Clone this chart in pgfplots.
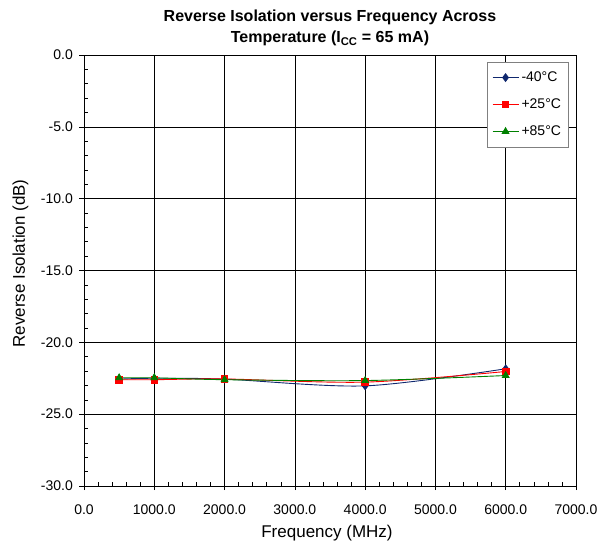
\documentclass[border=0pt]{standalone}
\usepackage{fontspec}
\setmainfont{Liberation Sans}
\usepackage{pgfplots}
\pgfplotsset{compat=1.18}
\definecolor{navyline}{RGB}{16,40,110}
\definecolor{redline}{RGB}{255,0,0}
\definecolor{greenline}{RGB}{0,128,0}
\begin{document}
\begin{tikzpicture}
\begin{axis}[
  scale only axis,
  width=492pt, height=431pt,
  xmin=0, xmax=7000, ymin=-30, ymax=0,
  xtick distance=1000, ytick distance=5,
  minor x tick num=4, minor y tick num=4,
  tick pos=left, tick align=inside,
  major tick length=5pt, minor tick length=4pt,
  major x tick style={yshift=-4pt},
  major y tick style={xshift=-5pt},
  every tick/.style={black, line width=0.6pt},
  xmajorgrids, ymajorgrids,
  major grid style={black, line width=0.6pt},
  axis line style={black, line width=0.8pt},
  /pgf/number format/assume math mode=true,
  /pgf/number format/.cd, fixed, fixed zerofill, precision=1, 1000 sep={},
  /pgfplots/.cd,
  ticklabel style={font=\fontsize{14}{16}\selectfont},
  xticklabel style={anchor=base, yshift=-28pt},
  yticklabel style={anchor=east, inner sep=0pt, xshift=-11pt},
  label style={font=\fontsize{17}{19}\selectfont},
  xlabel={Frequency (MHz)},
  ylabel={Reverse Isolation (dB)},
  xlabel style={at={([xshift=-3pt, yshift=-51pt]rel axis cs:0.5,0)}, anchor=base},
  ylabel style={at={([xshift=-59pt, yshift=7pt]rel axis cs:0,0.5)}, anchor=base, rotate=0},
  title={Reverse Isolation versus Frequency Across\\Temperature (I\textsubscript{CC} = 65 mA)},
  title style={font=\bfseries\fontsize{16}{21}\selectfont, align=center,
    at={(rel axis cs:0.5,1)}, anchor=south, inner sep=0pt, yshift=2.5pt},
  legend style={at={(rel axis cs:0.8185,0.9845)}, anchor=north west,
    draw=gray, line width=0.8pt, font=\fontsize{14}{16}\selectfont,
    row sep=12pt, inner xsep=5pt, inner ysep=8pt,
    nodes={inner xsep=2.5pt, inner ysep=1pt, text height=10pt, text depth=3pt}},
  legend image code/.code={%
    \draw[mark repeat=2, mark phase=2] plot coordinates {(0pt,0pt) (13pt,0pt) (26pt,0pt)};},
  legend cell align=left,
]
\addplot[navyline, line width=0.9pt, smooth, mark=diamond*, mark size=3.8pt, mark options={solid, fill=navyline}]
coordinates {(500,-22.56) (1000,-22.50) (2000,-22.56) (4000,-23.03) (6000,-21.84)};
\addlegendentry{-40°C}
\addplot[redline, line width=0.9pt, smooth, mark=square*, mark size=3.3pt, mark options={solid, fill=redline}]
coordinates {(500,-22.60) (1000,-22.60) (2000,-22.55) (4000,-22.77) (6000,-22.03)};
\addlegendentry{+25°C}
\addplot[greenline, line width=0.9pt, smooth, mark=triangle*, mark size=3.8pt, mark options={solid, fill=greenline}]
coordinates {(500,-22.47) (1000,-22.47) (2000,-22.60) (4000,-22.66) (6000,-22.31)};
\addlegendentry{+85°C}
\end{axis}
\pgfresetboundingbox
\path[use as bounding box] ([shift={(-84pt,-58pt)}]current axis.south west)
  rectangle ([shift={(24pt,55pt)}]current axis.north east);
\end{tikzpicture}
\end{document}
